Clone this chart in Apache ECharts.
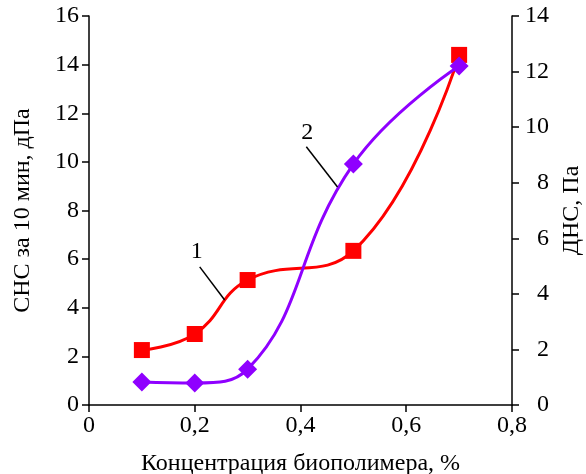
<!DOCTYPE html>
<html><head><meta charset="utf-8">
<script src="https://cdn.jsdelivr.net/npm/echarts@6/dist/echarts.min.js"></script>
<style>html,body{margin:0;padding:0;background:#fff}#c{width:586px;height:474px}</style>
</head><body><div id="c"></div>
<script>
var xValues = [0.1, 0.2, 0.3, 0.5, 0.7];
var snsValues = [2.26, 2.92, 5.14, 6.34, 14.4];   // series 1, left axis
var dnsValues = [0.83, 0.79, 1.29, 8.67, 12.2];   // series 2, right axis
var xTicks = [0, 0.2, 0.4, 0.6, 0.8];
var leftTicks = [0, 2, 4, 6, 8, 10, 12, 14, 16];
var rightTicks = [0, 2, 4, 6, 8, 10, 12, 14];

var font = 'Liberation Serif';
var fs = 24;
var chart = echarts.init(document.getElementById('c'), null, {renderer: 'canvas'});
function pairs(xs, ys){ return xs.map(function(x,i){ return [x, ys[i]]; }); }
var axisLine = {show: true, lineStyle: {color: '#000', width: 1.5}};
var axisTick = {show: true, length: 7, lineStyle: {color: '#000', width: 1.5}};
chart.setOption({
  animation: false,
  grid: {left: 89, right: 74, top: 16, bottom: 69, containLabel: false, outerBoundsMode: 'none'},
  xAxis: {
    type: 'value', min: xTicks[0], max: xTicks[xTicks.length-1], interval: 0.2,
    axisLine: axisLine, axisTick: axisTick, splitLine: {show: false},
    axisLabel: {fontFamily: font, fontSize: fs, color: '#000', margin: 9,
      formatter: function(v){ return String(+v.toFixed(1)).replace('.', ','); }},
    name: 'Концентрация биополимера, %', nameLocation: 'middle', nameGap: 47,
    nameTextStyle: {fontFamily: font, fontSize: fs, color: '#000'}
  },
  yAxis: [{
    type: 'value', min: leftTicks[0], max: leftTicks[leftTicks.length-1], interval: 2,
    axisLine: axisLine, axisTick: axisTick, splitLine: {show: false},
    axisLabel: {fontFamily: font, fontSize: fs, color: '#000', margin: 10},
    name: 'СНС за 10 мин, дПа', nameLocation: 'middle', nameGap: 54, nameRotate: 90,
    nameTextStyle: {fontFamily: font, fontSize: fs, color: '#000'}
  }, {
    type: 'value', position: 'right', min: rightTicks[0], max: rightTicks[rightTicks.length-1], interval: 2,
    axisLine: axisLine, axisTick: axisTick, splitLine: {show: false},
    axisLabel: {fontFamily: font, fontSize: fs, color: '#000', margin: 37, align: 'right'},
    name: 'ДНС, Па', nameLocation: 'middle', nameGap: 48, nameRotate: 90,
    nameTextStyle: {fontFamily: font, fontSize: fs, color: '#000'}
  }],
  series: [{
    type: 'line', yAxisIndex: 0, data: pairs(xValues, snsValues), smooth: 0.45,
    lineStyle: {color: '#ff0000', width: 3}, itemStyle: {color: '#ff0000'},
    symbol: 'rect', symbolSize: 16, z: 3,
    markLine: {silent: true, symbol: 'none', animation: false,
      lineStyle: {color: '#000', width: 1.5, type: 'solid'}, label: {show: false},
      data: [
        [{coord: [0.2094, 5.68]}, {coord: [0.2566, 4.32]}],
        [{coord: [0.411, 10.62]}, {coord: [0.470, 8.97]}]
      ]},
    markPoint: {silent: true, symbol: 'circle', symbolSize: 1, itemStyle: {color: 'transparent'},
      label: {show: true, position: 'inside', fontFamily: font, fontSize: fs, color: '#000'},
      data: [
        {coord: [0.204, 6.3], value: '1', label: {formatter: '1'}},
        {coord: [0.413, 11.2], value: '2', label: {formatter: '2'}}
      ]}
  }, {
    type: 'line', yAxisIndex: 1, data: pairs(xValues, dnsValues), smooth: 0.45,
    lineStyle: {color: '#8f00ff', width: 3}, itemStyle: {color: '#8f00ff'},
    symbol: 'diamond', symbolSize: 19, z: 4
  }]
});
</script></body></html>
